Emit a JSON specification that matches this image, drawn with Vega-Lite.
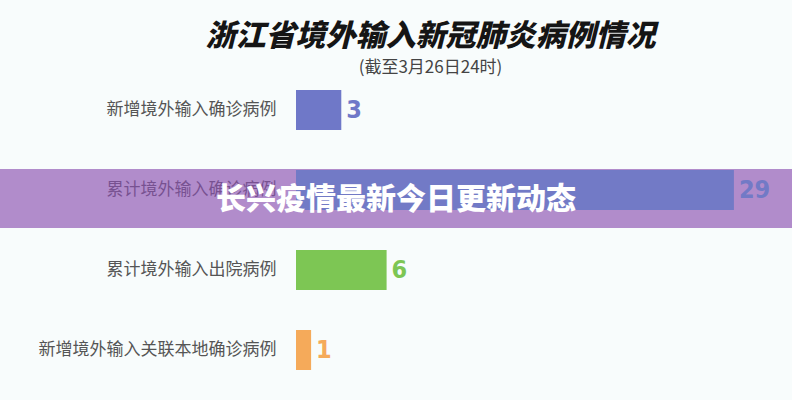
{
  "$schema": "https://vega.github.io/schema/vega-lite/v6.json",
  "autosize": {"type": "none"},
  "width": 453,
  "height": 300,
  "padding": {"left": 296, "top": 80, "right": 43, "bottom": 20},
  "background": "#f8fcfc",
  "config": {"view": {"stroke": null}},
  "title": {
    "text": "浙江省境外输入新冠肺炎病例情况",
    "subtitle": "(截至3月26日24时)",
    "frame": "group",
    "anchor": "middle",
    "dx": -92,
    "offset": 4,
    "font": "Noto Sans CJK SC",
    "fontSize": 30,
    "fontWeight": 900,
    "fontStyle": "italic",
    "color": "#151515",
    "subtitleFont": "Noto Sans CJK SC",
    "subtitleFontSize": 17,
    "subtitleColor": "#444444",
    "subtitlePadding": 8
  },
  "data": {
    "values": [
      {"label": "新增境外输入确诊病例", "value": 3},
      {"label": "累计境外输入确诊病例", "value": 29},
      {"label": "累计境外输入出院病例", "value": 6},
      {"label": "新增境外输入关联本地确诊病例", "value": 1}
    ]
  },
  "encoding": {
    "y": {
      "field": "label",
      "type": "nominal",
      "sort": ["新增境外输入确诊病例", "累计境外输入确诊病例", "累计境外输入出院病例", "新增境外输入关联本地确诊病例"],
      "scale": {"paddingInner": 0.5, "paddingOuter": 0.125},
      "axis": {
        "title": null,
        "domain": false,
        "ticks": false,
        "labelPadding": 20,
        "labelFont": "Noto Sans CJK SC",
        "labelFontSize": 17,
        "labelColor": "#555555",
        "labelLimit": 400
      }
    }
  },
  "layer": [
    {
      "data": {"values": [{"label": "累计境外输入确诊病例", "banner": "长兴疫情最新今日更新动态"}]},
      "mark": {"type": "bar", "height": {"band": 1.475}, "yOffset": 8.5, "color": "#8a50b0", "opacity": 0.65},
      "encoding": {
        "x": {"value": -296},
        "x2": {"value": 496}
      }
    },
    {
      "mark": {"type": "bar"},
      "encoding": {
        "x": {"field": "value", "type": "quantitative", "scale": {"domain": [0, 30]}, "axis": null},
        "color": {
          "field": "label",
          "type": "nominal",
          "scale": {
            "domain": ["新增境外输入确诊病例", "累计境外输入确诊病例", "累计境外输入出院病例", "新增境外输入关联本地确诊病例"],
            "range": ["#6f78c8", "#727ac6", "#7dc654", "#f5aa5a"]
          },
          "legend": null
        }
      }
    },
    {
      "mark": {"type": "text", "align": "left", "baseline": "middle", "dx": 5, "font": "DejaVu Sans Condensed, Liberation Sans Narrow, sans-serif", "fontWeight": "bold", "fontSize": 25},
      "encoding": {
        "x": {"field": "value", "type": "quantitative"},
        "text": {"field": "value", "type": "quantitative"},
        "color": {"field": "label", "type": "nominal", "legend": null}
      }
    },
    {
      "data": {"values": [{"label": "累计境外输入确诊病例", "banner": "长兴疫情最新今日更新动态"}]},
      "mark": {"type": "text", "align": "center", "baseline": "middle", "yOffset": 10, "font": "Noto Sans CJK SC", "fontWeight": 900, "fontSize": 30, "color": "#ffffff"},
      "encoding": {
        "x": {"value": 100},
        "text": {"field": "banner"}
      }
    }
  ]
}
